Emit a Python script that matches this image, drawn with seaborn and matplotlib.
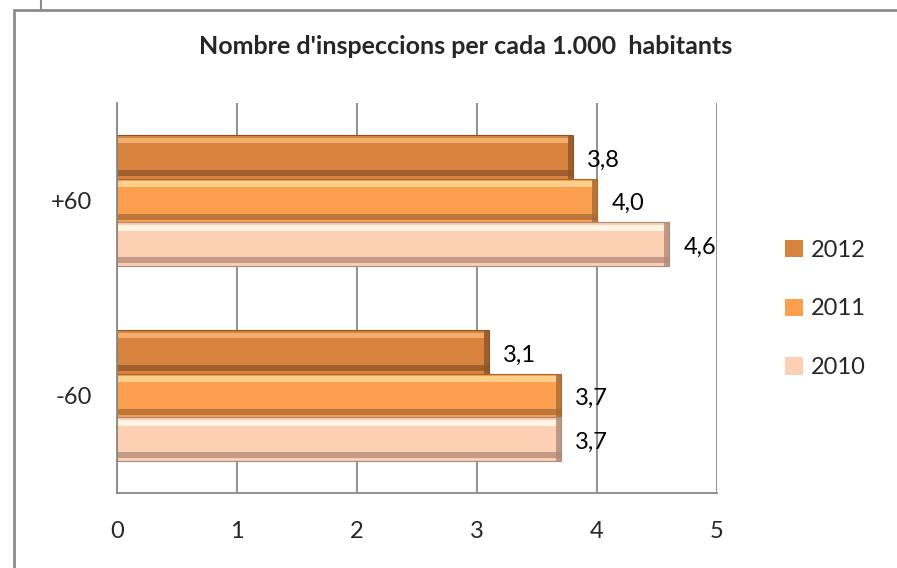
import numpy as np
import pandas as pd
import matplotlib
matplotlib.use('Agg')
import matplotlib.pyplot as plt
import seaborn as sns
from matplotlib.patches import Rectangle
from matplotlib.lines import Line2D

# dades
grups = ['+60', '-60']
anys = ['2012', '2011', '2010']
valors_2012 = [3.8, 3.1]
valors_2011 = [4.0, 3.7]
valors_2010 = [4.6, 3.7]
titol = "Nombre d'inspeccions per cada 1.000  habitants"

colors = {'2012': '#D8843F', '2011': '#FCA050', '2010': '#FDCFB3'}
clars = {'2012': '#F2AE6E', '2011': '#FFD08A', '2010': '#FFF3E4'}
foscos = {'2012': '#8C5528', '2011': '#A86A35', '2010': '#B08A7A'}

df = pd.DataFrame({
    'grup': grups * 3,
    'any': ['2012'] * 2 + ['2011'] * 2 + ['2010'] * 2,
    'valor': valors_2012 + valors_2011 + valors_2010,
})

sns.set_style('white')
plt.rcParams['font.family'] = ['Lato', 'DejaVu Sans']

fig = plt.figure(figsize=(8.97, 5.68), dpi=100)
ax = fig.add_axes([117 / 897, 1 - 493 / 568, 600 / 897, 390 / 568])

sns.barplot(data=df, x='valor', y='grup', hue='any', order=grups, hue_order=anys,
            palette=colors, width=0.67, orient='h', ax=ax, saturation=1,
            errorbar=None, linewidth=0)

# efecte bisellat sobre cada barra
for cont, a in zip(ax.containers, anys):
    for p in cont.patches:
        x0, y0, w, h = p.get_x(), p.get_y(), p.get_width(), p.get_height()
        ax.add_patch(Rectangle((x0, y0 + h * 0.06), w - 0.03, h * 0.13,
                               color=clars[a], lw=0, zorder=p.get_zorder() + 0.1))
        ax.add_patch(Rectangle((x0, y0 + h * 0.80), w, h * 0.14,
                               color=foscos[a], lw=0, alpha=0.75, zorder=p.get_zorder() + 0.1))
        ax.add_patch(Rectangle((x0 + w - 0.045, y0), 0.045, h,
                               color=foscos[a], lw=0, alpha=0.8, zorder=p.get_zorder() + 0.2))
        ax.add_patch(Rectangle((x0, y0), w, h, fill=False, ec=foscos[a], lw=0.8,
                               zorder=p.get_zorder() + 0.3))
        ax.text(x0 + w + 0.12, y0 + h / 2 + 0.015, f'{w:.1f}'.replace('.', ','),
                ha='left', va='center', fontsize=17, color='black')

ax.set_xlim(0, 5)
ax.set_ylim(1.5, -0.5)
ax.set_xticks(range(6))
ax.set_xticklabels([str(i) for i in range(6)])
ax.set_xlabel('')
ax.set_ylabel('')
ax.tick_params(axis='x', length=0, pad=20, labelsize=17)
ax.tick_params(axis='y', length=0, pad=18, labelsize=17)
ax.grid(axis='x', color='#888888', lw=1.3)
ax.set_axisbelow(True)
for s in ['top', 'right']:
    ax.spines[s].set_visible(False)
for s in ['left', 'bottom']:
    ax.spines[s].set_color('#888888')
    ax.spines[s].set_linewidth(1.3)

handles, labels = ax.get_legend_handles_labels()
ax.legend(handles, labels, loc='center left', bbox_to_anchor=(764 / 897, 1 - 309 / 568),
          bbox_transform=fig.transFigure, frameon=False, fontsize=17,
          handlelength=0.75, handleheight=0.75, handletextpad=0.35, labelspacing=1.6)

fig.text(466 / 897, 1 - 47 / 568, titol, ha='center', va='center',
         fontsize=18, fontweight='bold')

# marc del gràfic
fig.add_artist(Line2D([14 / 897, 14 / 897], [0, 1 - 10 / 568], color='#8c8c8c', lw=2))
fig.add_artist(Line2D([14 / 897, 1], [1 - 10 / 568, 1 - 10 / 568], color='#8c8c8c', lw=2))
fig.add_artist(Line2D([41 / 897, 41 / 897], [1 - 10 / 568, 1], color='#8c8c8c', lw=1.5))

fig.savefig('out.png', dpi=100)
